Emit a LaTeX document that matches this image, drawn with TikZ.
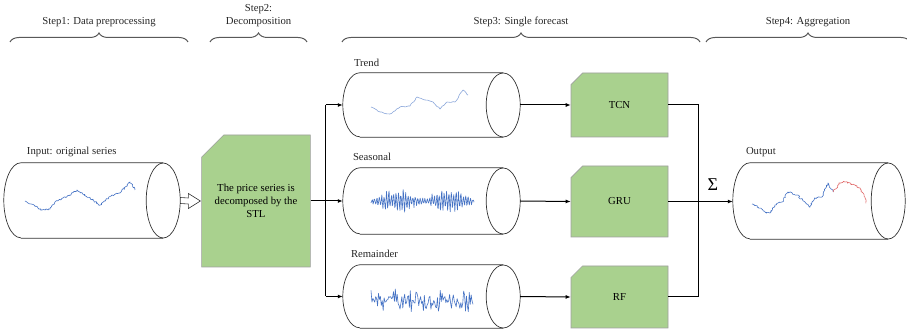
\documentclass[tikz,border=0pt]{standalone}
\usepackage{fontspec}
\setmainfont{Liberation Serif}
\usepackage{xcolor}
\usetikzlibrary{positioning, arrows.meta, calc, shapes.misc,
  decorations.pathreplacing, decorations.pathmorphing}

\definecolor{boxgreen}{HTML}{A9D18E}
\definecolor{serblue}{HTML}{4472C4}
\definecolor{trendblue}{HTML}{8AA6DA}
\definecolor{serred}{HTML}{E06666}
\definecolor{bracegray}{HTML}{595959}

\begin{document}
\begin{tikzpicture}[
  x=1pt, y=1pt,
  font=\fontsize{10.7}{13}\selectfont,
  tube/.style={rectangle, inner sep=0pt},
  tubeline/.style={draw=black!80, line width=0.7pt},
  model/.style={chamfered rectangle, chamfered rectangle corners=north west,
                chamfered rectangle sep=#1, draw=gray!75, fill=boxgreen,
                line width=0.6pt, minimum width=97pt, inner sep=2pt, align=center},
  tubelabel/.style={inner sep=1pt, text=black!85},
  steplabel/.style={inner sep=1pt, align=center, text=black!85},
  stepbrace/.style={decorate, decoration={brace, amplitude=9pt}, draw=bracegray, line width=1pt},
  conn/.style={line width=1pt, draw=black},
  arrow/.style={conn, -{Latex[length=5pt, width=4pt]}},
  hollow/.style={draw=black!80, line width=0.6pt, line join=miter},
  series/.style={draw=#1, line width=0.6pt, line join=round},
  jitter/.style={decorate, decoration={random steps, segment length=1.2pt, amplitude=0.9pt}}
]
\useasboundingbox (0,0) rectangle (907,329);
\pgfmathsetseed{11}

% ==================== STEP 1: INPUT ====================
\node[tube, minimum width=176pt, minimum height=75pt] (input) at (92,128.5) {};
\node[tubelabel, above right=5pt and 22pt of input.north west] (inlbl) {Input: original series};
\begin{scope}[shift={(input.center)}]
  \draw[series=serblue, jitter] (-67,-0.5) -- (-50,-9.5) -- (-42,-8.5) -- (-37,-1.5) -- (-22,5.5)
    -- (-15,10.5) -- (-2,2.5) -- (8,-4.5) -- (20,5.5) -- (28,7.5) -- (38,18.5) -- (43,10.5);
\end{scope}

% ==================== STEP 2: STL ====================
\node[model=11pt, minimum width=98pt, minimum height=132pt] (stl) at (256,128)
  {The price series is\\decomposed by the\\STL};

% ==================== STEP 3: COMPONENTS ====================
\node[tube, minimum width=177pt, minimum height=64pt] (trend) at (431.5,224) {};
\node[tube, minimum width=177pt, minimum height=66pt] (season) at (431.5,128) {};
\node[tube, minimum width=177pt, minimum height=63pt] (rem) at (431.5,32.5) {};

\node[tubelabel, above right=5pt and 10pt of trend.north west] (trendlbl) {Trend};
\node[tubelabel, above right=6pt and 9pt of season.north west] (seasonlbl) {Seasonal};
\node[tubelabel, above right=6pt and 7pt of rem.north west] (remlbl) {Remainder};

\begin{scope}[shift={(trend.center)}]
  \draw[series=trendblue, decorate, decoration={random steps, segment length=2pt, amplitude=0.5pt}]
    (-60.5,-2) -- (-51.5,-7) -- (-41.5,-9) -- (-31.5,-2) -- (-21.5,-1) -- (-14.5,8) -- (-6.5,5)
    -- (1.5,3) -- (8.5,-4) -- (15.5,3) -- (23.5,3) -- (31.5,15) -- (36.5,10);
\end{scope}
\begin{scope}[shift={(season.center)}]
  \draw[series=serblue] plot[domain=-60.5:42.5, samples=200]
    (\x, {(4+10*sin((\x+60.5)*3.5)^2)*(0.65+0.35*rand)*sin(\x*150) + rand});
\end{scope}
\begin{scope}[shift={(rem.center)}]
  \draw[series=serblue] plot[domain=-60.5:41.5, samples=110]
    (\x, {-4 + 8*rand + 5*rand});
\end{scope}

\node[model=6pt, minimum height=64pt] (tcn) at (619.5,224) {TCN};
\node[model=6pt, minimum height=71pt] (gru) at (619.5,127.5) {GRU};
\node[model=6pt, minimum height=62pt] (rf) at (619.5,32) {RF};

% ==================== STEP 4: OUTPUT ====================
\node[tube, minimum width=172pt, minimum height=76pt] (output) at (819,128) {};
\node[tubelabel, above right=5pt and 12pt of output.north west] (outlbl) {Output};
\begin{scope}[shift={(output.center)}]
  \draw[series=serblue, jitter] (-67,-3) -- (-61,-6) -- (-54,-11) -- (-49,-12) -- (-44,-4) -- (-37,-1)
    -- (-31,9) -- (-22,6) -- (-14,-1) -- (-9,-6) -- (-4,3) -- (3,4) -- (9,18) -- (14,9);
  \draw[series=serred, jitter] (14,9) -- (21,18) -- (26,19) -- (36,16) -- (41,13) -- (44,8) -- (47,-2);
\end{scope}

% tube outlines: body, left rim and open right end
\foreach \t/\ry in {input/37.5pt, trend/32pt, season/33pt, rem/31.5pt, output/38pt} {
  \draw[tubeline] ([xshift=17pt]\t.north west) -- ([xshift=-17pt]\t.north east)
    ([xshift=17pt]\t.south west) -- ([xshift=-17pt]\t.south east)
    ([xshift=17pt]\t.north west) arc[start angle=90, end angle=270, x radius=17pt, y radius=\ry];
  \draw[tubeline] ([xshift=-17pt]\t.east) ellipse[x radius=17pt, y radius=\ry];
}

% ==================== STEP BRACES ====================
\draw[stepbrace] (10,287) -- node[steplabel, above=14pt] (s1) {Step1: Data preprocessing} (188,287);
\draw[stepbrace] (210,287) -- node[steplabel, above=14pt] (s2) {Step2:\\Decomposition} (307,287);
\draw[stepbrace] (342,287) -- node[steplabel, above=14pt] (s3) {Step3: Single forecast} (700,287);
\draw[stepbrace] (706,287) -- node[steplabel, above=14pt] (s4) {Step4: Aggregation} (910,287);

% ==================== CONNECTORS ====================
% hollow block arrow from the input tube to the STL box
\draw[hollow] ($(input.east)+(0,3)$) -- ($(stl.west)+(-13,3)$) -- ($(stl.west)+(-13,7.5)$)
  -- ([xshift=-1pt]stl.west) -- ($(stl.west)+(-13,-7.5)$) -- ($(stl.west)+(-13,-3)$)
  -- ($(input.east)+(0,-3)$);

\coordinate (busL) at ([xshift=15pt]stl.east);
\coordinate (busR) at ([xshift=30pt]tcn.east);

\draw[conn] (stl.east) -- (busL);
\draw[conn] (busL |- trend.west) -- (busL |- rem.west);
\draw[arrow] (busL |- trend.west) -- (trend.west);
\draw[arrow] (busL |- season.west) -- (season.west);
\draw[arrow] (busL |- rem.west) -- (rem.west);

\draw[arrow] (trend.east) -- (tcn.west);
\draw[arrow] (season.east) -- (gru.west);
\draw[arrow] (rem.east) -- (rf.west);

\draw[conn] (tcn.east) -- (busR) -- (busR |- rf.east) -- (rf.east);
\draw[arrow] (gru.east) -- node[pos=0.69, above=7pt, font=\fontsize{18}{18}\selectfont] (sum) {Σ}
  (gru.east -| output.west);

\end{tikzpicture}
\end{document}
